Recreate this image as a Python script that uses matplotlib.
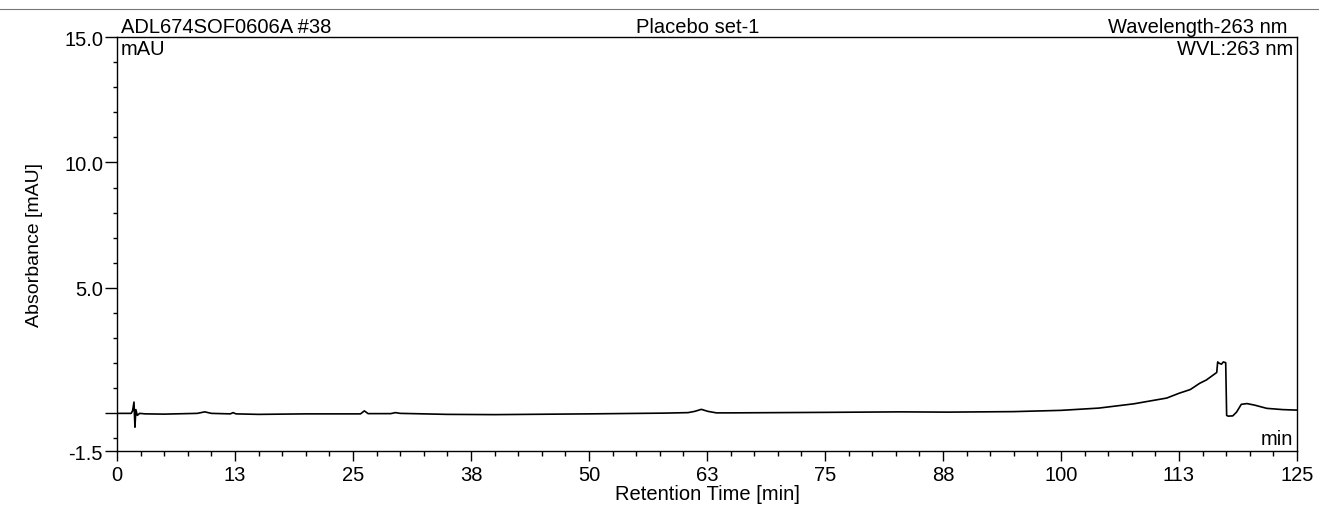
import matplotlib.pyplot as plt
from matplotlib.lines import Line2D
from matplotlib.ticker import FixedLocator, MultipleLocator

plt.rcParams['font.family'] = ['Liberation Sans', 'DejaVu Sans']

# Data
time_min = [0, 1.5, 1.65, 1.8, 1.9, 2.0, 2.15, 2.4, 3.0, 5.0, 8.5, 9.3, 10.0,
            12.0, 12.3, 12.6, 15.0, 20.0, 25.8, 26.2, 26.6, 29.0, 29.5, 30.0,
            35.0, 40.0, 50.0, 58.0, 60.5, 61.2, 61.9, 62.6, 63.5, 65.0, 75.0,
            83.0, 88.0, 95.0, 100.0, 104.0, 107.7, 111.2, 112.5, 113.7, 114.7,
            115.4, 116.5, 116.6, 116.75, 117.0, 117.2, 117.45, 117.55, 117.7,
            118.2, 118.6, 119.1, 119.7, 120.5, 121.8, 123.5, 125.0]
absorbance = [0.0, 0.0, 0.1, 0.45, -0.55, 0.15, -0.08, 0.0, -0.02, -0.03, 0.0,
              0.06, 0.0, -0.02, 0.03, -0.02, -0.04, -0.02, -0.02, 0.1, -0.01,
              -0.01, 0.03, 0.0, -0.04, -0.05, -0.02, 0.01, 0.03, 0.08, 0.16,
              0.08, 0.02, 0.02, 0.04, 0.06, 0.05, 0.07, 0.12, 0.21, 0.38, 0.61,
              0.8, 0.95, 1.2, 1.33, 1.63, 2.05, 2.0, 1.96, 2.05, 2.02, -0.08,
              -0.11, -0.1, 0.05, 0.36, 0.39, 0.33, 0.2, 0.15, 0.13]

x_ticks = [0, 12.5, 25, 37.5, 50, 62.5, 75, 87.5, 100, 112.5, 125]
x_tick_labels = ['0', '13', '25', '38', '50', '63', '75', '88', '100', '113', '125']
y_ticks = [-1.5, 0, 5, 10, 15]
y_tick_labels = ['-1.5', '', '5.0', '10.0', '15.0']

fig = plt.figure(figsize=(13.19, 5.06), dpi=100)
ax = fig.add_axes([0.0887, 0.1067, 0.8946, 0.8182])

ax.plot(time_min, absorbance, color='black', linewidth=1.2)

ax.set_xlim(0, 125)
ax.set_ylim(-1.5, 15)
ax.xaxis.set_major_locator(FixedLocator(x_ticks))
ax.set_xticklabels(x_tick_labels)
ax.xaxis.set_minor_locator(MultipleLocator(2.5))
ax.yaxis.set_major_locator(FixedLocator(y_ticks))
ax.set_yticklabels(y_tick_labels)
ax.yaxis.set_minor_locator(MultipleLocator(1.0))

ax.tick_params(axis='x', which='major', length=7, width=1, labelsize=14.5, pad=3)
ax.tick_params(axis='x', which='minor', length=3.5, width=1)
ax.tick_params(axis='y', which='major', length=9, width=1, labelsize=14.5, pad=1)
ax.tick_params(axis='y', which='minor', length=3, width=1)
for s in ax.spines.values():
    s.set_linewidth(1)

ax.set_xlabel('Retention Time [min]', fontsize=14.5, labelpad=0)
ax.set_ylabel('Absorbance [mAU]', fontsize=14, labelpad=15)

# Header and in-plot annotations
ax.text(0.003, 1.003, 'ADL674SOF0606A #38', transform=ax.transAxes,
        fontsize=14.5, ha='left', va='bottom')
ax.text(0.492, 1.003, 'Placebo set-1', transform=ax.transAxes,
        fontsize=14.5, ha='center', va='bottom')
ax.text(0.992, 1.003, 'Wavelength-263 nm', transform=ax.transAxes,
        fontsize=14.5, ha='right', va='bottom')
ax.text(0.003, 0.995, 'mAU', transform=ax.transAxes,
        fontsize=14.5, ha='left', va='top')
ax.text(0.997, 0.995, 'WVL:263 nm', transform=ax.transAxes,
        fontsize=14.5, ha='right', va='top')
ax.text(0.997, 0.008, 'min', transform=ax.transAxes,
        fontsize=14.5, ha='right', va='bottom')

# thin separator line at the top of the page
fig.add_artist(Line2D([0, 1], [1 - 10 / 506, 1 - 10 / 506],
                      transform=fig.transFigure, color='#777777', linewidth=0.8))

fig.savefig('out.png', dpi=100)
